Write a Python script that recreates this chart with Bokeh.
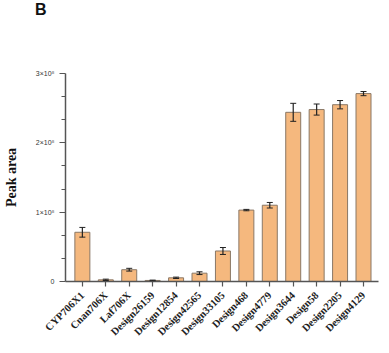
import numpy as np
from bokeh.plotting import figure
from bokeh.layouts import column
from bokeh.models import (ColumnDataSource, Range1d, FixedTicker, Whisker, Div)
from bokeh.embed import file_html
from bokeh.resources import INLINE

# ---- data (values in units of 1e8) ----
categories = ["CYP706X1", "Cnan706X", "Laf706X", "Design26159", "Design12854",
              "Design42565", "Design33105", "Design468", "Design4779",
              "Design3644", "Design58", "Design2205", "Design4129"]
peak_area = [0.71, 0.024, 0.17, 0.015, 0.053, 0.12, 0.44, 1.03, 1.10,
             2.44, 2.48, 2.55, 2.71]
peak_err = [0.07, 0.01, 0.02, 0.005, 0.01, 0.02, 0.05, 0.01, 0.04,
            0.13, 0.08, 0.06, 0.03]
y_ticks = [0, 1, 2, 3]
y_tick_labels = ["0", "1×10⁸", "2×10⁸", "3×10⁸"]

xs = list(range(len(categories)))
src = ColumnDataSource(dict(
    x=xs, top=peak_area,
    upper=[v + e for v, e in zip(peak_area, peak_err)],
    lower=[v - e for v, e in zip(peak_area, peak_err)],
))

p = figure(width=389, height=333, output_backend="svg", toolbar_location=None,
           x_range=Range1d(-0.72, 12.64), y_range=Range1d(0, 3),
           min_border_left=63, min_border_right=11, min_border_top=53,
           min_border_bottom=72, margin=0)
p.outline_line_color = None
p.xgrid.visible = False
p.ygrid.visible = False
p.background_fill_color = "white"

p.vbar(x="x", top="top", bottom=0, width=0.64, source=src,
       fill_color="#F5B87E", line_color="#8a7866", line_width=1)

w = Whisker(base="x", upper="upper", lower="lower", source=src,
            line_color="#222222", line_width=1.2, level="overlay")
w.upper_head.size = 6
w.lower_head.size = 6
w.upper_head.line_color = "#222222"
w.lower_head.line_color = "#222222"
p.add_layout(w)

# x axis
p.xaxis.ticker = FixedTicker(ticks=xs)
p.xaxis.major_label_overrides = {i: c for i, c in enumerate(categories)}
p.xaxis.major_label_orientation = np.pi / 4
p.xaxis.major_label_text_font = "Liberation Serif"
p.xaxis.major_label_text_font_style = "bold"
p.xaxis.major_label_text_font_size = "10.5px"
p.xaxis.major_label_text_color = "#222222"
p.xaxis.major_label_standoff = 7
p.xaxis.major_tick_out = 5
p.xaxis.major_tick_in = 0
p.xaxis.minor_tick_out = 0
p.xaxis.axis_line_color = "#555555"
p.xaxis.axis_line_width = 1.5
p.xaxis.major_tick_line_color = "#555555"
p.xaxis.major_tick_line_width = 1.2

# y axis
minor = [i / 3 for i in range(1, 9) if i % 3 != 0]
p.yaxis.ticker = FixedTicker(ticks=y_ticks, minor_ticks=minor)
p.yaxis.major_label_overrides = {t: l for t, l in zip(y_ticks, y_tick_labels)}
p.yaxis.major_label_text_font = "Liberation Sans"
p.yaxis.major_label_text_font_size = "7px"
p.yaxis.major_label_text_color = "#333333"
p.yaxis.major_tick_out = 6
p.yaxis.major_tick_in = 0
p.yaxis.minor_tick_out = 4
p.yaxis.minor_tick_in = 0
p.yaxis.axis_line_color = "#555555"
p.yaxis.axis_line_width = 1.5
p.yaxis.major_tick_line_color = "#555555"
p.yaxis.minor_tick_line_color = "#555555"
p.yaxis.major_tick_line_width = 1.2
p.yaxis.axis_label = "Peak area"
p.yaxis.axis_label_text_font = "Liberation Serif"
p.yaxis.axis_label_text_font_style = "bold"
p.yaxis.axis_label_text_font_size = "14px"
p.yaxis.axis_label_text_color = "#111111"
p.yaxis.axis_label_standoff = 14

# panel letter
letter = Div(text="B", width=389, height=20, margin=0,
             styles={"font-family": "Liberation Sans", "font-weight": "bold",
                     "font-size": "16px", "color": "#111111",
                     "padding-left": "35px", "padding-top": "2px",
                     "line-height": "16px"})

layout = column(letter, p, spacing=0, margin=0)
open("out.html", "w").write(file_html(layout, INLINE))
